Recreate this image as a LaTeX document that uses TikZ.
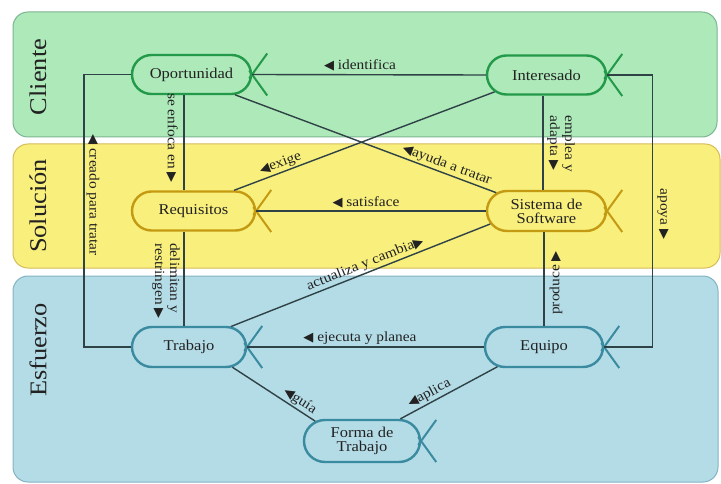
\documentclass[tikz,border=0pt]{standalone}
\usepackage{fontspec}
\setmainfont{Liberation Serif}[FakeStretch=1.1]
\newfontfamily\symfont{DejaVu Sans}
\usetikzlibrary{shapes.misc,calc}

\definecolor{cliFill}{HTML}{ADE9B9}
\definecolor{cliEdge}{HTML}{7DB592}
\definecolor{cliNode}{HTML}{23994A}
\definecolor{solFill}{HTML}{F8EF7C}
\definecolor{solEdge}{HTML}{D6BD5C}
\definecolor{solNode}{HTML}{C49A12}
\definecolor{esfFill}{HTML}{B4DCE7}
\definecolor{esfEdge}{HTML}{83B3C4}
\definecolor{esfNode}{HTML}{3A8AA0}
\definecolor{linkCol}{HTML}{2F4246}
\definecolor{txtCol}{HTML}{222222}

% direction marks used inside the relation labels
\newcommand{\arrL}{{\symfont\fontsize{13}{13}\selectfont ◀}}
\newcommand{\arrR}{{\symfont\fontsize{13}{13}\selectfont ▶}}

% the open "X" drawn at the right end of every alpha
\newcommand{\crowfoot}[2]{%
  \draw[#2, line width=2pt]
    ($(#1.east)+(-3,4)$) -- ++(18,-25)
    ($(#1.east)+(-3,-4)$) -- ++(18,25);}

\tikzset{
  band/.style={rounded corners=15pt, line width=1pt},
  bandlabel/.style={rotate=90, font=\fontsize{24}{26}\selectfont, text=txtCol},
  alpha/.style={rounded rectangle, line width=2.4pt, minimum height=39pt,
    inner sep=2pt, font=\fontsize{15}{16}\selectfont, text=txtCol, align=center},
  link/.style={draw=linkCol, line width=1.4pt},
  lbl/.style={font=\fontsize{14}{15}\selectfont, text=txtCol, inner sep=1.5pt},
}

\begin{document}
\begin{tikzpicture}[x=1pt,y=-1pt]
\useasboundingbox[fill=white] (0,0) rectangle (721,484);

% areas of concern
\draw[band, fill=cliFill, draw=cliEdge] (13,12) rectangle (717,137);
\draw[band, fill=solFill, draw=solEdge] (13,144) rectangle (720,268);
\draw[band, fill=esfFill, draw=esfEdge] (13,276) rectangle (718,482);
\node[bandlabel] (tCli) at (38,77) {Cliente};
\node[bandlabel] (tSol) at (38,206) {Solución};
\node[bandlabel] (tEsf) at (38,350) {Esfuerzo};

% alphas
\node[alpha, draw=cliNode, fill=cliFill, minimum width=123pt] (O) at (191.5,74.5) {Oportunidad};
\node[alpha, draw=cliNode, fill=cliFill, minimum width=123pt] (I) at (546.5,75) {Interesado};
\node[alpha, draw=solNode, fill=solFill, minimum width=127pt] (R) at (193.5,211) {Requisitos};
\node[alpha, draw=solNode, fill=solFill, minimum width=123pt, minimum height=40pt] (S) at (546.5,211) {Sistema de\\[-2pt]Software};
\node[alpha, draw=esfNode, fill=esfFill, minimum width=118pt, minimum height=40pt] (T) at (189,347) {Trabajo};
\node[alpha, draw=esfNode, fill=esfFill, minimum width=122pt, minimum height=40pt] (E) at (544,347) {Equipo};
\node[alpha, draw=esfNode, fill=esfFill, minimum width=120pt, minimum height=42pt] (F) at (362,441) {Forma de\\[-2pt]Trabajo};

\crowfoot{O}{cliNode}
\crowfoot{I}{cliNode}
\crowfoot{R}{solNode}
\crowfoot{S}{solNode}
\crowfoot{T}{esfNode}
\crowfoot{E}{esfNode}
\crowfoot{F}{esfNode}

% horizontal relations
\draw[link] (I.west) -- (O.east);
\node[lbl] (lId) at (360,65) {\arrL{} identifica};
\draw[link] (S.west) -- (R.east);
\node[lbl] (lSa) at (366,202) {\arrL{} satisface};
\draw[link] (E.west) -- (T.east);
\node[lbl] (lEj) at (360,338) {\arrL{} ejecuta y planea};

% diagonal relations
\draw[link] (R.27) -- (I.198) node[lbl, pos=0.19, sloped, above] {\arrL exige};
\draw[link] (O.-25) -- (S.160) node[lbl, pos=0.8, sloped, above] {\arrL ayuda a tratar};
\draw[link] (T.26) -- (S.193.5) node[lbl, pos=0.53, sloped, above] {actualiza y cambia\arrR};
\draw[link] (T.-25) -- (F.157) node[lbl, pos=0.76, sloped, above] {\arrL guía};
\draw[link] (F.30) -- (E.203) node[lbl, pos=0.34, sloped, above] {\arrL aplica};

% vertical relations
\coordinate (oa) at ([xshift=-7.5pt]O.south);
\draw[link] (oa) -- (oa |- R.north);
\node[lbl, rotate=-90] (lSe) at (172,138) {se enfoca en \arrR};

\coordinate (ra) at ([xshift=-9.5pt]R.south);
\draw[link] (ra) -- (ra |- T.north);
\node[lbl, rotate=-90, align=left] (lDe) at (166,281) {delimitan y\\restringen \arrR};

\coordinate (ia) at ([xshift=-3.5pt]I.south);
\draw[link] (ia) -- (ia |- S.north);
\node[lbl, rotate=-90, align=left] (lEm) at (561,144) {emplea y\\adapta \arrR};

\coordinate (ea) at (E.north);
\draw[link] (ea) -- (ea |- S.south);
\node[lbl, rotate=90] (lPr) at (556,283) {produce \arrR};

% loops along the outside
\draw[link] (I.east) -- ++(45,0) |- (E.east);
\node[lbl, rotate=-90] (lAp) at (663,214) {apoya \arrR};
\draw[link] (T.west) -- ++(-47,0) |- (O.west);
\node[lbl, rotate=-90] (lCr) at (93,195) {\arrL{} creado para tratar};
\end{tikzpicture}
\end{document}
